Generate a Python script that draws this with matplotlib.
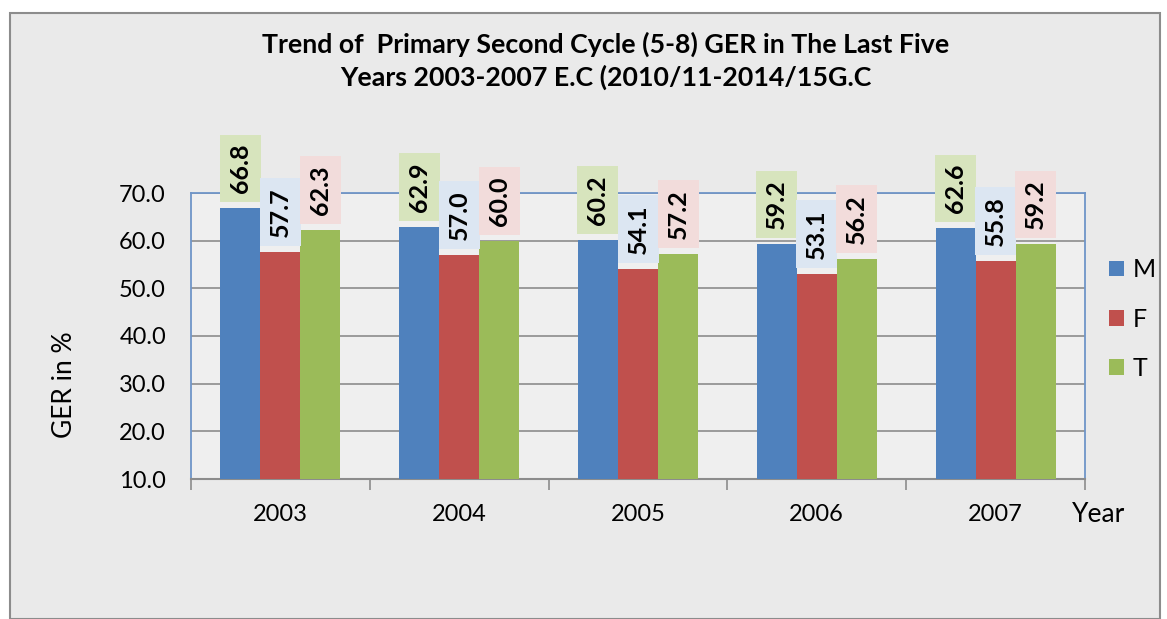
import numpy as np
import matplotlib
matplotlib.use("Agg")
import matplotlib.pyplot as plt
from matplotlib.patches import Rectangle

years = ["2003", "2004", "2005", "2006", "2007"]
male = [66.8, 62.9, 60.2, 59.2, 62.6]
female = [57.7, 57.0, 54.1, 53.1, 55.8]
total = [62.3, 60.0, 57.2, 56.2, 59.2]
series_names = ["M", "F", "T"]

bar_colors = ["#4F81BD", "#C0504D", "#9BBB59"]
label_bg = ["#D7E4BD", "#DCE6F2", "#F2DCDB"]

plt.rcParams["font.family"] = ["Lato", "DejaVu Sans"]

fig = plt.figure(figsize=(11.67, 6.19), dpi=100)
fig.patch.set_facecolor("white")
# chart area background with grey border
fig.patches.append(Rectangle((10 / 1167, 0), 1150 / 1167, 1 - 13 / 619,
                             transform=fig.transFigure, facecolor="#eaeaea",
                             edgecolor="#8c8c8c", linewidth=1.5, zorder=-10))

ax = fig.add_axes([191 / 1167, 1 - 479 / 619, 894 / 1167, (479 - 193) / 619])
ax.set_facecolor("#efefef")

x = np.arange(len(years))
width = 0.224
for i, vals in enumerate([male, female, total]):
    pos = x + (i - 1) * width
    ax.bar(pos, vals, width=width, color=bar_colors[i], label=series_names[i],
           zorder=3, linewidth=0)
    for px, v in zip(pos, vals):
        ax.annotate(f"{v:.1f}", (px, v), xytext=(0, 15), textcoords="offset pixels",
                    rotation=90, ha="center", va="bottom", fontsize=18,
                    fontweight="bold", annotation_clip=False, zorder=5,
                    bbox=dict(boxstyle="square,pad=0.36", facecolor=label_bg[i],
                              edgecolor="none"))

ax.set_ylim(10, 70)
ax.set_xlim(-0.5, len(years) - 0.5)
ax.set_yticks(np.arange(10, 71, 10))
ax.set_yticklabels([f"{t:.1f}" for t in np.arange(10, 71, 10)], fontsize=17)
ax.yaxis.grid(True, color="#8c8c8c", linewidth=1.2, zorder=0)
ax.tick_params(axis="y", length=0, pad=18)

ax.set_xticks(x)
ax.set_xticklabels(years, fontsize=17)
ax.set_xticks(np.arange(-0.5, len(years) + 0.5, 1), minor=True)
ax.tick_params(axis="x", which="major", length=0, pad=18)
ax.tick_params(axis="x", which="minor", length=8, color="#8c8c8c", width=1.2)

for side in ["left", "top", "right"]:
    ax.spines[side].set_color("#6f95c8")
    ax.spines[side].set_linewidth(1.3)
ax.spines["bottom"].set_color("#8c8c8c")
ax.spines["bottom"].set_linewidth(1.5)

fig.text(65 / 1167, 1 - 385 / 619, "GER in %", rotation=90, ha="center",
         va="center", fontsize=19)
fig.text(1099 / 1167, 1 - 514 / 619, "Year", ha="center", va="center",
         fontsize=19)

fig.text(606 / 1167, 1 - 61 / 619,
         "Trend of  Primary Second Cycle (5-8) GER in The Last Five\n"
         "Years 2003-2007 E.C (2010/11-2014/15G.C",
         ha="center", va="center", fontsize=19.3, fontweight="bold",
         linespacing=1.35)

fig.legend(loc="center left", bbox_to_anchor=(1109 / 1167, 1 - 319 / 619),
           frameon=False, fontsize=18, handlelength=0.6, handleheight=0.6,
           labelspacing=1.05, handletextpad=0.35, borderpad=0, borderaxespad=0)

fig.savefig("out.png", dpi=100)
